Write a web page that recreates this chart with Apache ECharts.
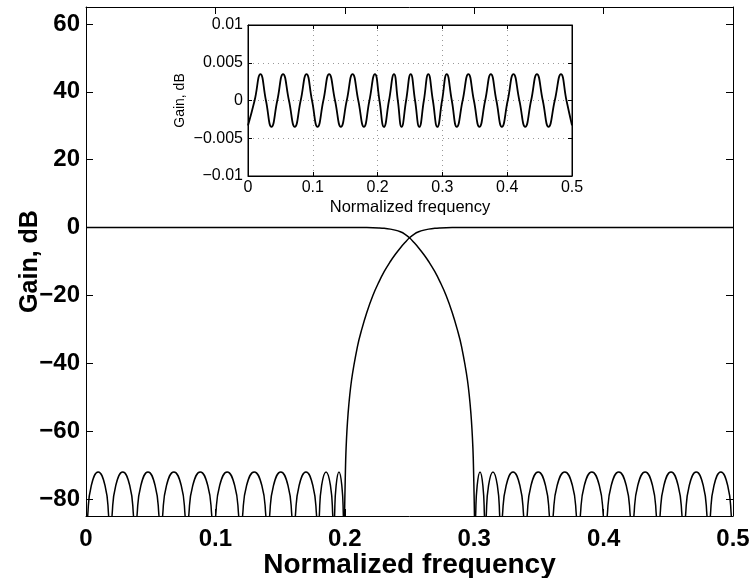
<!DOCTYPE html>
<html>
<head>
<meta charset="utf-8">
<script src="https://cdn.jsdelivr.net/npm/echarts@6/dist/echarts.min.js"></script>
<style>html,body{margin:0;padding:0;background:#fff}#c{width:753px;height:578px}</style>
</head>
<body>
<div id="c"></div>
<script>
// ---- Data ----
const xTicks = [0, 0.1, 0.2, 0.3, 0.4, 0.5];
const yTicks = [-80, -60, -40, -20, 0, 20, 40, 60];
const insetYTicks = [-0.01, -0.005, 0, 0.005, 0.01];

// Lowpass: passband + transition band (freq, dB)
const lowpassMain = [[0,0],[0.2,0],[0.217,-0.01],[0.2217,-0.04],[0.2264,-0.11],[0.2304,-0.22],[0.2352,-0.46],[0.2388,-0.75],[0.2429,-1.25],[0.2463,-1.9],[0.25,-3],[0.2537,-4.5],[0.2571,-6],[0.2612,-8],[0.2648,-10],[0.2696,-13],[0.2736,-16],[0.2783,-20],[0.283,-25],[0.2869,-30],[0.2902,-35],[0.2948,-45],[0.2975,-55],[0.299,-65],[0.2997,-75],[0.3002,-85],[0.3005,-95]];
// Lowpass stopband lobes
const lowpassStop = [[0.3005,-95],
 [0.3011,-85],[0.3023,-76],[0.3045,-72],[0.3067,-76],[0.3079,-85],[0.3085,-95],
 [0.3093,-85],[0.3111,-76],[0.3145,-72],[0.3179,-76],[0.3197,-85],[0.3205,-95],
 [0.3218,-85],[0.3247,-76],[0.3300,-72],[0.3353,-76],[0.3382,-85],[0.3395,-95],
 [0.3409,-85],[0.3439,-76],[0.3495,-72],[0.3551,-76],[0.3581,-85],[0.3595,-95],
 [0.3610,-85],[0.3641,-76],[0.3700,-72],[0.3759,-76],[0.3790,-85],[0.3805,-95],
 [0.3820,-85],[0.3851,-76],[0.3909,-72],[0.3967,-76],[0.3998,-85],[0.4013,-95],
 [0.4028,-85],[0.4059,-76],[0.4117,-72],[0.4175,-76],[0.4206,-85],[0.4220,-95],
 [0.4234,-85],[0.4264,-76],[0.4321,-72],[0.4378,-76],[0.4408,-85],[0.4422,-95],
 [0.4436,-85],[0.4466,-76],[0.4521,-72],[0.4576,-76],[0.4606,-85],[0.4620,-95],
 [0.4633,-85],[0.4662,-76],[0.4716,-72],[0.4770,-76],[0.4799,-85],[0.4812,-95],
 [0.4825,-85],[0.4853,-76],[0.4906,-72],[0.4959,-76],[0.4987,-85],[0.5,-95]];
// Highpass stopband lobes
const highpassStop = [[0,-95],
 [0.0013,-85],[0.0041,-76],[0.0094,-72],[0.0147,-76],[0.0175,-85],[0.0188,-95],
 [0.0201,-85],[0.0230,-76],[0.0284,-72],[0.0338,-76],[0.0367,-85],[0.0380,-95],
 [0.0394,-85],[0.0424,-76],[0.0479,-72],[0.0534,-76],[0.0564,-85],[0.0578,-95],
 [0.0592,-85],[0.0622,-76],[0.0679,-72],[0.0736,-76],[0.0766,-85],[0.0780,-95],
 [0.0794,-85],[0.0825,-76],[0.0883,-72],[0.0941,-76],[0.0972,-85],[0.0987,-95],
 [0.1002,-85],[0.1033,-76],[0.1091,-72],[0.1149,-76],[0.1180,-85],[0.1195,-95],
 [0.1210,-85],[0.1241,-76],[0.1300,-72],[0.1359,-76],[0.1390,-85],[0.1405,-95],
 [0.1419,-85],[0.1449,-76],[0.1505,-72],[0.1561,-76],[0.1591,-85],[0.1605,-95],
 [0.1618,-85],[0.1647,-76],[0.1700,-72],[0.1753,-76],[0.1782,-85],[0.1795,-95],
 [0.1803,-85],[0.1821,-76],[0.1855,-72],[0.1889,-76],[0.1907,-85],[0.1915,-95],
 [0.1921,-85],[0.1933,-76],[0.1955,-72],[0.1977,-76],[0.1989,-85],[0.1995,-95]];
// Highpass: transition band + passband
const highpassMain = [[0.1995,-95],[0.1998,-85],[0.2003,-75],[0.201,-65],[0.2025,-55],[0.2052,-45],[0.2098,-35],[0.2131,-30],[0.217,-25],[0.2217,-20],[0.2264,-16],[0.2304,-13],[0.2352,-10],[0.2388,-8],[0.2429,-6],[0.2463,-4.5],[0.25,-3],[0.2537,-1.9],[0.2571,-1.25],[0.2612,-0.75],[0.2648,-0.46],[0.2696,-0.22],[0.2736,-0.11],[0.2783,-0.04],[0.283,-0.01],[0.3,0],[0.5,0]];
// Inset: passband ripple of the combined response (freq, dB)
const ripple = [[0,-0.0033],[0.0102,0],[0.0192,0.0035],[0.0277,0],[0.0362,-0.0035],[0.0452,0],[0.0541,0.0035],[0.0632,0],[0.0722,-0.0035],[0.0813,0],[0.0903,0.0035],[0.0988,0],[0.1073,-0.0035],[0.1163,0],[0.1252,0.0035],[0.1343,0],[0.1433,-0.0035],[0.1524,0],[0.1614,0.0035],[0.1702,0],[0.1789,-0.0035],[0.1874,0],[0.1959,0.0035],[0.2029,0],[0.2098,-0.0035],[0.2176,0],[0.2253,0.0035],[0.2312,0],[0.2370,-0.0035],[0.2440,0],[0.2511,0.0035],[0.2578,0],[0.2644,-0.0035],[0.2714,0],[0.2783,0.0035],[0.2853,0],[0.2922,-0.0035],[0.2995,0],[0.3067,0.0035],[0.3145,0],[0.3222,-0.0035],[0.3312,0],[0.3401,0.0035],[0.3486,0],[0.3571,-0.0035],[0.3660,0],[0.3748,0.0035],[0.3833,0],[0.3918,-0.0035],[0.4008,0],[0.4097,0.0035],[0.4188,0],[0.4278,-0.0035],[0.4369,0],[0.4459,0.0035],[0.4549,0],[0.4638,-0.0035],[0.4734,0],[0.4830,0.0035],[0.4915,0],[0.5,-0.0033]];

// ---- Chart ----
const FONT = 'Liberation Sans, Arial, Helvetica, sans-serif';
const minus = v => (v < 0 ? '\u2212' + String(Math.abs(v)) : String(v));
const chart = echarts.init(document.getElementById('c'), null, {renderer: 'canvas'});

function xAx(grid, pos, showLabel, fs, tickLen, margin, name, nameGap, nameFs, weight, dots) {
  return {
    type: 'value', gridIndex: grid, position: pos, min: 0, max: 0.5, interval: 0.1,
    axisLine: {show: true, onZero: false, lineStyle: {color: '#000', width: 1}},
    axisTick: {show: true, inside: true, length: tickLen, lineStyle: {color: '#000'}},
    axisLabel: {show: showLabel, color: '#000', fontSize: fs, fontFamily: FONT, fontWeight: weight, margin: margin,
      customValues: xTicks, formatter: v => String(v)},
    splitLine: {show: !!dots, lineStyle: {type: [1, 4], color: '#999', width: 1}},
    name: name, nameLocation: 'middle', nameGap: nameGap, nameMoveOverlap: false,
    nameTextStyle: {color: '#000', fontSize: nameFs, fontFamily: FONT, fontWeight: weight}
  };
}

const option = {
  backgroundColor: '#fff',
  animation: false,
  grid: [
    {left: 86, right: 20, top: 7, bottom: 62, show: false, outerBoundsMode: 'none', containLabel: false},
    {left: 248, top: 25, width: 324, height: 151, show: true, backgroundColor: '#fff', borderColor: '#000', borderWidth: 1, z: 5, outerBoundsMode: 'none', containLabel: false}
  ],
  xAxis: [
    xAx(0, 'bottom', true, 24, 7, 11, 'Normalized frequency', 35, 28, 'bold', false),
    xAx(0, 'top', false, 24, 7, 8, '', 0, 10, 'bold', false),
    Object.assign(xAx(1, 'bottom', true, 16, 4, 4, 'Normalized frequency', 23, 16.5, 'normal', true), {z: 6}),
    Object.assign(xAx(1, 'top', false, 16, 4, 4, '', 0, 10, 'normal', false), {z: 6})
  ],
  yAxis: [
    {type: 'value', gridIndex: 0, position: 'left', min: -85, max: 65,
      axisLine: {show: true, onZero: false, lineStyle: {color: '#000'}},
      axisTick: {show: true, inside: true, length: 7, customValues: yTicks, lineStyle: {color: '#000'}},
      axisLabel: {color: '#000', fontSize: 24, fontFamily: FONT, fontWeight: 'bold', margin: 6, customValues: yTicks, formatter: minus},
      splitLine: {show: false},
      name: 'Gain, dB', nameLocation: 'middle', nameGap: 43, nameMoveOverlap: false,
      nameTextStyle: {color: '#000', fontSize: 25, fontFamily: FONT, fontWeight: 'bold'}},
    {type: 'value', gridIndex: 0, position: 'right', min: -85, max: 65,
      axisLine: {show: true, onZero: false, lineStyle: {color: '#000'}},
      axisTick: {show: true, inside: true, length: 7, customValues: yTicks, lineStyle: {color: '#000'}},
      axisLabel: {show: false, customValues: yTicks}, splitLine: {show: false}},
    {type: 'value', gridIndex: 1, position: 'left', min: -0.01, max: 0.01, interval: 0.005, z: 6,
      axisLine: {show: true, onZero: false, lineStyle: {color: '#000'}},
      axisTick: {show: true, inside: true, length: 4, lineStyle: {color: '#000'}},
      axisLabel: {color: '#000', fontSize: 16, fontFamily: FONT, margin: 5, customValues: insetYTicks, formatter: minus},
      splitLine: {show: true, lineStyle: {type: [1, 4], color: '#999', width: 1}},
      name: 'Gain, dB', nameLocation: 'middle', nameGap: 61, nameMoveOverlap: false,
      nameTextStyle: {color: '#000', fontSize: 14, fontFamily: FONT}},
    {type: 'value', gridIndex: 1, position: 'right', min: -0.01, max: 0.01, interval: 0.005, z: 6,
      axisLine: {show: true, onZero: false, lineStyle: {color: '#000'}},
      axisTick: {show: true, inside: true, length: 4, lineStyle: {color: '#000'}},
      axisLabel: {show: false}, splitLine: {show: false}}
  ],
  series: [
    {type: 'line', xAxisIndex: 0, yAxisIndex: 0, data: lowpassMain, showSymbol: false, smooth: 0.4, clip: true,
      lineStyle: {color: '#000', width: 1.5}},
    {type: 'line', xAxisIndex: 0, yAxisIndex: 0, data: lowpassStop, showSymbol: false, smooth: 0.5, clip: true,
      lineStyle: {color: '#000', width: 1.5}},
    {type: 'line', xAxisIndex: 0, yAxisIndex: 0, data: highpassStop, showSymbol: false, smooth: 0.5, clip: true,
      lineStyle: {color: '#000', width: 1.5}},
    {type: 'line', xAxisIndex: 0, yAxisIndex: 0, data: highpassMain, showSymbol: false, smooth: 0.4, clip: true,
      lineStyle: {color: '#000', width: 1.5}},
    {type: 'line', xAxisIndex: 2, yAxisIndex: 2, data: ripple, showSymbol: false, smooth: 0.5, clip: true, z: 7,
      lineStyle: {color: '#000', width: 1.8}}
  ]
};
chart.setOption(option);
</script>
</body>
</html>
